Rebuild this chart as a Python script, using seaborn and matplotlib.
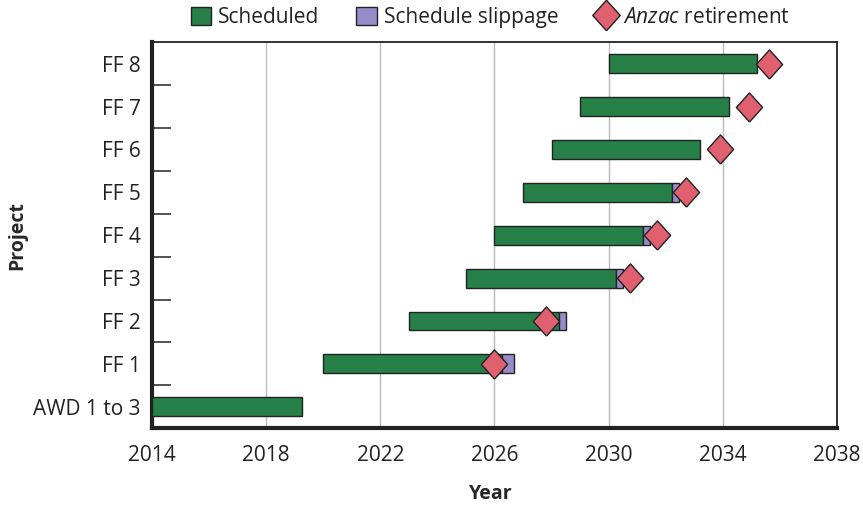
import numpy as np
import pandas as pd
import matplotlib
matplotlib.use('Agg')
import matplotlib.pyplot as plt
from matplotlib.patches import Patch
from matplotlib.lines import Line2D
import seaborn as sns

# project timeline data (years)
projects = ['AWD 1 to 3', 'FF 1', 'FF 2', 'FF 3', 'FF 4', 'FF 5', 'FF 6', 'FF 7', 'FF 8']
start = [2014.0, 2020.0, 2023.0, 2025.0, 2026.0, 2027.0, 2028.0, 2029.0, 2030.0]
sched_end = [2019.25, 2026.25, 2028.25, 2030.25, 2031.2, 2032.2, 2033.2, 2034.2, 2035.2]
slippage = [0.0, 0.45, 0.25, 0.25, 0.25, 0.25, 0.0, 0.0, 0.0]
retirement = [np.nan, 2026.0, 2027.8, 2030.75, 2031.7, 2032.7, 2033.9, 2034.9, 2035.6]
xticks = [2014, 2018, 2022, 2026, 2030, 2034, 2038]

GREEN = '#268048'
PURPLE = '#968CC8'
PINK = '#E16070'
EDGE = '#222222'
FS = 15

sns.set_theme(style='white')
plt.rcParams['font.family'] = ['Open Sans', 'DejaVu Sans']
plt.rcParams['mathtext.fontset'] = 'custom'
plt.rcParams['mathtext.it'] = 'Open Sans:italic'
plt.rcParams['mathtext.rm'] = 'Open Sans'
plt.rcParams['text.color'] = '#222222'
plt.rcParams['xtick.color'] = '#222222'
plt.rcParams['ytick.color'] = '#222222'

df = pd.DataFrame({'project': projects, 'start': start, 'sched_end': sched_end,
                   'slippage': slippage, 'retirement': retirement})
df['y'] = np.arange(len(df))
df['dur'] = df['sched_end'] - df['start']

fig = plt.figure(figsize=(8.63, 5.08), dpi=100)
ax = fig.add_axes([0.176, 0.157, 0.794, 0.76])

bh = 0.44
ax.barh(df['y'], df['dur'], left=df['start'], height=bh, color=GREEN,
        edgecolor=EDGE, linewidth=1.0, zorder=3)
slip = df[df['slippage'] > 0]
ax.barh(slip['y'], slip['slippage'], left=slip['sched_end'], height=bh,
        color=PURPLE, edgecolor=EDGE, linewidth=1.0, zorder=3)

# diamond marker slightly taller than wide
diamond = [(0, -1), (0.9, 0), (0, 1), (-0.9, 0), (0, -1)]
ret = df.dropna(subset=['retirement'])
sns.scatterplot(data=ret, x='retirement', y='y', marker=diamond, s=21 ** 2,
                color=PINK, edgecolor=EDGE, linewidth=1.0, zorder=4, ax=ax,
                legend=False)

ax.set_xlim(2014, 2038)
ax.set_ylim(-0.5, len(projects) - 0.5)
ax.set_xticks(xticks)
ax.set_xticklabels([str(t) for t in xticks], fontsize=FS)
ax.set_yticks(df['y'])
ax.set_yticklabels(projects, fontsize=FS)
ax.set_yticks(np.arange(0.5, len(projects) - 1, 1.0), minor=True)
ax.tick_params(axis='y', which='major', length=0, pad=8)
ax.tick_params(axis='y', which='minor', direction='in', length=14, width=1.3,
               color='#444444', left=True)
ax.tick_params(axis='x', which='major', length=0, pad=12)
ax.grid(axis='x', color='#BBBBBB', linewidth=1.0, zorder=0)
ax.set_axisbelow(True)

for side in ['left', 'bottom']:
    ax.spines[side].set_linewidth(3)
    ax.spines[side].set_color('#222222')
for side in ['top', 'right']:
    ax.spines[side].set_linewidth(1.3)
    ax.spines[side].set_color('#222222')

ax.set_xlabel('Year', fontsize=14, fontweight='bold', va='center')
ax.set_ylabel('Project', fontsize=14, fontweight='bold', va='center')
ax.xaxis.set_label_coords(0.495, -0.171)
ax.yaxis.set_label_coords(-0.197, 0.5)

handles = [
    Patch(facecolor=GREEN, edgecolor=EDGE, linewidth=1.0),
    Patch(facecolor=PURPLE, edgecolor=EDGE, linewidth=1.0),
    Line2D([], [], marker=diamond, markersize=22, color=PINK, markeredgecolor=EDGE,
           markeredgewidth=1.0, linestyle='none'),
]
labels = ['Scheduled', 'Schedule slippage', r'$\it{Anzac}$ retirement']
fig.legend(handles, labels, loc='center', bbox_to_anchor=(0.568, 0.966), ncol=3,
           frameon=False, fontsize=FS, handlelength=1.0, handleheight=1.0,
           handletextpad=0.3, columnspacing=1.8)

fig.savefig('out.png', dpi=100)
